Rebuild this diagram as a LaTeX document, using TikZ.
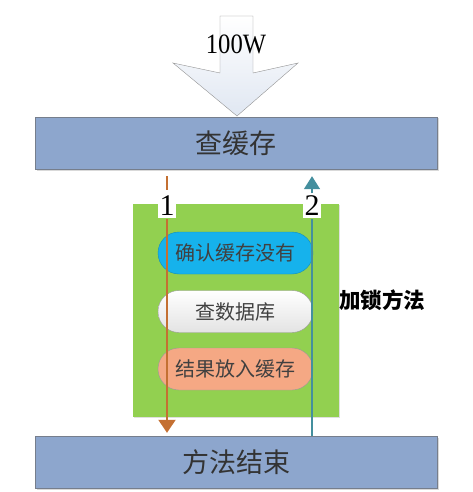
\documentclass[tikz,border=0pt]{standalone}
\usepackage{fontspec}
\setmainfont{Liberation Serif}
\newfontfamily\cjk{Noto Sans CJK SC}
\usetikzlibrary{arrows.meta,shadows}
\definecolor{boxblue}{RGB}{141,166,205}
\definecolor{lockgreen}{RGB}{146,208,80}
\definecolor{pillblue}{RGB}{22,178,236}
\definecolor{pillsalmon}{RGB}{245,168,132}
\definecolor{lineorange}{RGB}{196,112,50}
\definecolor{lineteal}{RGB}{68,143,158}
\definecolor{edgegray}{RGB}{118,126,140}
\begin{document}
\begin{tikzpicture}[x=1pt, y=-1pt,
    stepbox/.style={draw=edgegray, fill=boxblue, minimum width=402pt, minimum height=52pt,
      inner sep=0pt, font=\cjk\fontsize{27}{27}\selectfont, text=black!80,
      drop shadow={shadow xshift=1.5pt, shadow yshift=-1.5pt, opacity=0.3}},
    pill/.style={rounded corners=21pt, minimum width=155pt, minimum height=42pt,
      inner sep=0pt, font=\cjk\fontsize{20}{20}\selectfont, text=black!75},
    numlabel/.style={fill=white, inner xsep=1.5pt, inner ysep=2.5pt, font=\fontsize{30}{30}\selectfont}]
  \useasboundingbox (0,0) rectangle (473,492);
  % incoming load
  \draw[draw=gray!85, top color=white, bottom color={rgb,255:red,224;green,231;blue,242}]
    (220,16) -- (253,16) -- (253,73) -- (298,63) -- (237,116) -- (173,63) -- (220,73) -- cycle;
  \node (load) at (236,44) {\fontsize{28}{28}\selectfont\scalebox{0.88}[1]{100W}};
  \node[stepbox] (cache) at (236,143) {查缓存};
  \node[stepbox] (done) at (236,462) {方法结束};
  % locked block
  \node[fill=lockgreen, minimum width=206pt, minimum height=213pt, inner sep=0pt,
    drop shadow={shadow xshift=1pt, shadow yshift=-1pt, opacity=0.25}] (lock) at (236,310.5) {};
  \node[font=\cjk\bfseries\fontsize{21.5}{21.5}\selectfont] (locklabel) at (382,300) {加锁方法};
  \node[pill, fill=pillblue, draw=pillblue!80!black] (check) at (235.5,253) {确认缓存没有};
  \node[pill, draw=gray!80, top color=white, bottom color=gray!22] (query) at (235.5,311.5) {查数据库};
  \node[pill, fill=pillsalmon, draw=gray!80] (store) at (235.5,369) {结果放入缓存};
  \node[numlabel] (n1) at (167,206) {1};
  \node[numlabel] (n2) at (312,206) {2};
  \draw[lineorange, line width=2pt, dash pattern=on 14pt off 7pt, dash phase=14pt] (cache.south -| n1) -- (n1.north);
  \draw[lineorange, line width=2pt, -{Triangle[width=17pt,length=13pt]}, shorten >=3pt]
    (n1.south) -- (done.north -| n1);
  \draw[lineteal, line width=1.5pt] (done.north -| n2) -- (n2.south);
  \draw[lineteal, line width=1.5pt, -{Triangle[width=16pt,length=13pt]}, shorten >=7pt]
    (n2.north) -- (cache.south -| n2);
\end{tikzpicture}
\end{document}
